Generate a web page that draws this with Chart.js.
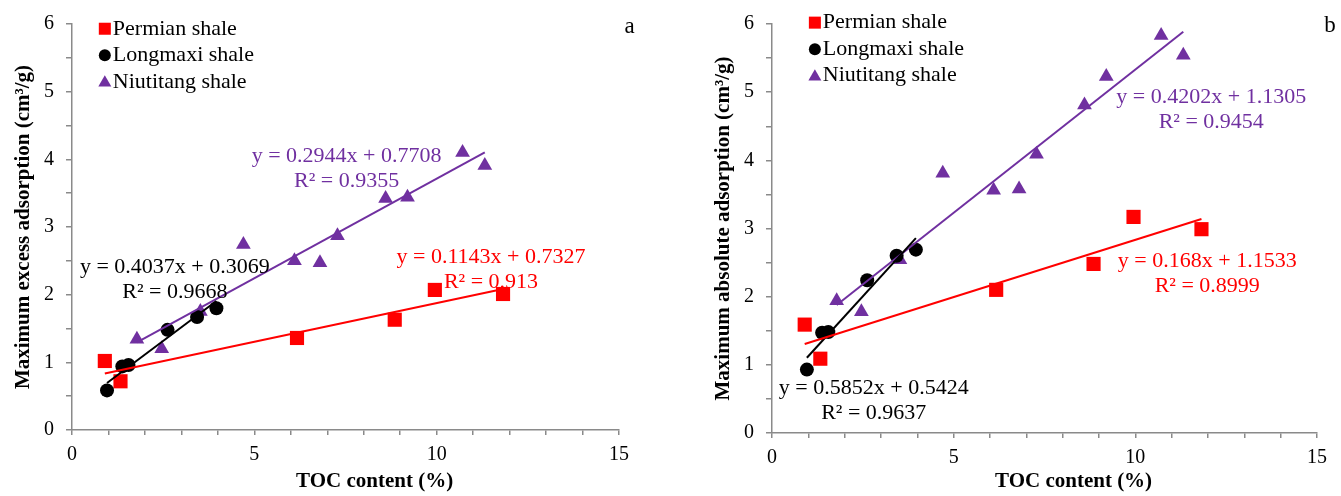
<!DOCTYPE html>
<html lang="en">
<head>
    <meta charset="UTF-8">
    <title>TOC content vs. maximum adsorption</title>
    <script src="https://cdn.jsdelivr.net/npm/chart.js"></script>
    <style>
        html, body { margin: 0; padding: 0; background: #fff; }
        .row { display: flex; width: 1341px; height: 496px; }
        canvas { display: block; }
    </style>
</head>
<body>
    <div class="row">
        <canvas id="excessChart" width="670" height="496"></canvas>
        <canvas id="absoluteChart" width="671" height="496"></canvas>
    </div>

    <script>
        // sample TOC (%) per formation
        const shaleNames = ['Permian shale', 'Longmaxi shale', 'Niutitang shale'];
        const permianToc = [0.90, 1.33, 6.17, 8.85, 9.95, 11.82];
        const longmaxiToc = [0.96, 1.38, 1.55, 2.62, 3.43, 3.96];
        const niutitangToc = [1.78, 2.46, 3.52, 4.70, 6.10, 6.80, 7.28, 8.60, 9.20, 10.71, 11.32];

        // maximum excess adsorption (cm3/g)
        const permianExcess = [1.02, 0.72, 1.36, 1.63, 2.07, 2.01];
        const longmaxiExcess = [0.585, 0.94, 0.96, 1.48, 1.67, 1.80];
        const niutitangExcess = [1.34, 1.20, 1.75, 2.74, 2.50, 2.47, 2.87, 3.42, 3.44, 4.10, 3.91];

        // maximum absolute adsorption (cm3/g)
        const permianAbsolute = [1.59, 1.09, 2.10, 2.48, 3.17, 2.99];
        const longmaxiAbsolute = [0.93, 1.47, 1.48, 2.24, 2.60, 2.69];
        const niutitangAbsolute = [1.94, 1.78, 2.54, 3.81, 3.56, 3.58, 4.09, 4.81, 5.23, 5.83, 5.54];

        // linear fits, order: Permian, Longmaxi, Niutitang
        const excessSlope = [0.1143, 0.4037, 0.2944];
        const excessIntercept = [0.7327, 0.3069, 0.7708];
        const excessR2 = [0.913, 0.9668, 0.9355];
        const absoluteSlope = [0.168, 0.5852, 0.4202];
        const absoluteIntercept = [1.1533, 0.5424, 1.1305];
        const absoluteR2 = [0.8999, 0.9637, 0.9454];

        const xTicks = [0, 5, 10, 15];
        const yTicks = [0, 1, 2, 3, 4, 5, 6];

        const RED = '#ff0000';
        const BLACK = '#000000';
        const PURPLE = '#7030a0';
        const AXIS = '#8a8a8a';
        const FONT = "'Liberation Serif', 'Times New Roman', serif";

        const styles = [
            { shape: 'rect', color: RED, radius: 10, order: 2 },
            { shape: 'circle', color: BLACK, radius: 7, order: 1 },
            { shape: 'triangle', color: PURPLE, radius: 8.5, order: 3 }
        ];

        function marker(ctx, shape, x, y, r) {
            ctx.beginPath();
            if (shape === 'rect') {
                const s = r * Math.SQRT1_2;
                ctx.rect(x - s, y - s, 2 * s, 2 * s);
            } else if (shape === 'circle') {
                ctx.arc(x, y, r, 0, Math.PI * 2);
            } else {
                ctx.moveTo(x, y - r);
                ctx.lineTo(x + r * 0.866, y + r / 2);
                ctx.lineTo(x - r * 0.866, y + r / 2);
                ctx.closePath();
            }
            ctx.fill();
        }

        // equations, legend, panel letter and x title
        const annotate = {
            id: 'annotate',
            afterDatasetsDraw(chart, args, o) {
                const { ctx, scales: { x, y } } = chart;
                ctx.save();
                ctx.textBaseline = 'middle';
                ctx.font = `22px ${FONT}`;
                ctx.textAlign = 'center';
                o.slope.forEach((m, i) => {
                    const px = x.getPixelForValue(o.eqAt[i][0]);
                    const py = y.getPixelForValue(o.eqAt[i][1]);
                    ctx.fillStyle = styles[i].color;
                    ctx.fillText(`y = ${m}x + ${o.intercept[i]}`, px, py);
                    ctx.fillText(`R\u00b2 = ${o.r2[i]}`, px, py + 25);
                });

                ctx.textAlign = 'left';
                shaleNames.forEach((name, i) => {
                    const px = x.getPixelForValue(o.legendAt[0]);
                    const py = y.getPixelForValue(o.legendAt[1]) + i * o.legendGap;
                    ctx.fillStyle = styles[i].color;
                    const r = styles[i].shape === 'rect' ? 8.5 : styles[i].shape === 'circle' ? 6 : 7.5;
                    marker(ctx, styles[i].shape, px, py + (styles[i].shape === 'triangle' ? 1 : 0), r);
                    ctx.fillStyle = BLACK;
                    ctx.fillText(name, px + 8, py);
                });

                ctx.font = `23px ${FONT}`;
                ctx.fillStyle = BLACK;
                ctx.fillText(o.letter, x.getPixelForValue(o.letterAt[0]), y.getPixelForValue(o.letterAt[1]));

                ctx.font = `bold 21px ${FONT}`;
                ctx.textAlign = 'center';
                ctx.fillText('TOC content (%)', x.getPixelForValue(8.3), 482);
                ctx.restore();
            }
        };

        function points(toc, vals) {
            return toc.map((t, i) => ({ x: t, y: vals[i] }));
        }

        function buildChart(id, cfg) {
            const tocs = [permianToc, longmaxiToc, niutitangToc];
            const datasets = [];
            tocs.forEach((toc, i) => {
                datasets.push({
                    type: 'scatter',
                    label: shaleNames[i],
                    data: points(toc, cfg.values[i]),
                    pointStyle: styles[i].shape,
                    pointRadius: styles[i].radius,
                    pointBackgroundColor: styles[i].color,
                    pointBorderWidth: 0,
                    order: styles[i].order
                });
                const lo = Math.min(...toc), hi = Math.max(...toc);
                datasets.push({
                    type: 'line',
                    label: shaleNames[i] + ' fit',
                    data: [lo, hi].map(t => ({ x: t, y: cfg.slope[i] * t + cfg.intercept[i] })),
                    borderColor: styles[i].color,
                    borderWidth: 2,
                    pointRadius: 0,
                    fill: false,
                    order: 0
                });
            });

            return new Chart(document.getElementById(id), {
                type: 'scatter',
                data: { datasets },
                plugins: [annotate],
                options: {
                    responsive: false,
                    animation: false,
                    events: [],
                    layout: { padding: { left: 0, right: cfg.padRight, top: 20, bottom: 0 } },
                    plugins: {
                        legend: { display: false },
                        tooltip: { enabled: false },
                        annotate: {
                            slope: cfg.slope, intercept: cfg.intercept, r2: cfg.r2,
                            eqAt: cfg.eqAt, legendAt: cfg.legendAt, legendGap: 26.5,
                            letter: cfg.letter, letterAt: cfg.letterAt
                        }
                    },
                    scales: {
                        x: {
                            type: 'linear', min: 0, max: 15,
                            afterFit: s => { s.height = cfg.xHeight; },
                            border: { color: AXIS, width: 1.5 },
                            grid: { drawOnChartArea: false, tickLength: 5, color: AXIS, lineWidth: 1.5 },
                            ticks: {
                                stepSize: 1, autoSkip: false, maxRotation: 0, padding: 8,
                                color: BLACK, font: { family: FONT, size: 20 },
                                callback: v => xTicks.includes(v) ? v : ''
                            }
                        },
                        y: {
                            min: 0, max: 6,
                            afterFit: s => { s.width = cfg.yWidth; },
                            border: { color: AXIS, width: 1.5 },
                            grid: { drawOnChartArea: false, tickLength: 6, color: AXIS, lineWidth: 1.5 },
                            ticks: {
                                stepSize: 0.5, autoSkip: false, padding: 12,
                                color: BLACK, font: { family: FONT, size: 20 },
                                callback: v => yTicks.includes(v) ? v : ''
                            },
                            title: {
                                display: true, text: cfg.yTitle, color: BLACK,
                                font: { family: FONT, size: 21, weight: 'bold' },
                                padding: { top: cfg.yTitlePad, bottom: 0 }
                            }
                        }
                    }
                }
            });
        }

        buildChart('excessChart', {
            values: [permianExcess, longmaxiExcess, niutitangExcess],
            slope: excessSlope, intercept: excessIntercept, r2: excessR2,
            yTitle: 'Maximum excess adsorption (cm\u00b3/g)',
            yWidth: 72, yTitlePad: 11, xHeight: 66, padRight: 51,
            eqAt: [[11.49, 2.56], [2.82, 2.40], [7.53, 4.04]],
            legendAt: [0.90, 5.93],
            letter: 'a', letterAt: [15.15, 5.95]
        });

        buildChart('absoluteChart', {
            values: [permianAbsolute, longmaxiAbsolute, niutitangAbsolute],
            slope: absoluteSlope, intercept: absoluteIntercept, r2: absoluteR2,
            yTitle: 'Maximum absolute adsorption (cm\u00b3/g)',
            yWidth: 102, yTitlePad: 41, xHeight: 63, padRight: 24,
            eqAt: [[11.98, 2.52], [2.80, 0.65], [12.09, 4.92]],
            legendAt: [1.18, 6.02],
            letter: 'b', letterAt: [15.2, 5.97]
        });
    </script>
</body>
</html>
